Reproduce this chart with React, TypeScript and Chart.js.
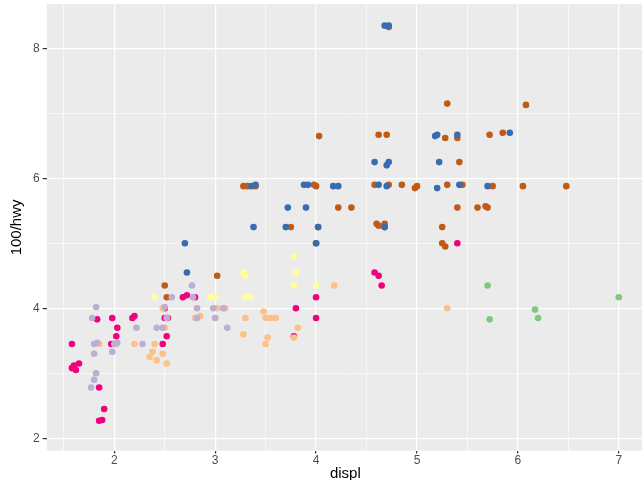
import Chart from "chart.js/auto";
import { useEffect, useRef } from "react";

const classes = ["2seater", "compact", "midsize", "minivan", "pickup", "subcompact", "suv"];
const colors = ["#7FC97F", "#BEAED4", "#FDC086", "#FFFF99", "#386CB0", "#F0027F", "#BF5B17"];

const twoseater = [[5.7, 4.35], [5.72, 3.83], [6.17, 3.98], [6.2, 3.85], [7.0, 4.17]];
const compact = [
  [1.8, 3.45], [1.83, 3.47], [1.78, 3.85], [1.82, 4.02], [1.8, 3.3], [1.8, 2.9], [1.77, 2.78], [1.82, 3.0],
  [2.0, 3.45], [2.03, 3.47], [1.98, 3.33], [2.22, 3.7], [2.42, 3.7], [2.52, 3.85], [2.48, 3.7], [2.5, 4.02],
  [2.78, 4.17], [2.77, 4.35], [2.82, 3.85], [3.0, 3.85], [2.98, 4.0], [3.12, 3.7], [3.08, 4.0], [2.57, 4.17],
  [2.82, 4.0], [2.28, 3.45],
];
const midsize = [
  [1.85, 3.45], [2.02, 3.45], [2.4, 3.45], [2.42, 3.2], [2.38, 3.33], [2.48, 3.3], [2.52, 3.15], [2.5, 3.7],
  [2.52, 3.85], [2.48, 4.0], [2.8, 3.85], [3.0, 3.85], [3.1, 4.0], [3.28, 3.6], [3.3, 3.85], [3.5, 3.85],
  [3.52, 3.55], [3.5, 3.45], [3.48, 3.95], [3.6, 3.85], [3.78, 3.55], [3.82, 3.7], [4.18, 4.35], [5.3, 4.0],
  [2.2, 3.45], [2.85, 3.88], [3.02, 4.0], [3.55, 3.85], [2.35, 3.25],
];
const minivan = [
  [2.4, 4.17], [3.0, 4.17], [3.28, 4.55], [3.3, 4.5], [3.78, 4.8], [3.8, 4.55], [3.78, 4.35], [4.0, 4.35],
  [3.3, 4.17], [3.35, 4.17], [2.95, 4.17],
];
const pickup = [
  [2.7, 5.0], [2.72, 4.55], [3.38, 5.25], [3.4, 5.9], [3.7, 5.25], [3.72, 5.55], [3.88, 5.9], [3.9, 5.55],
  [4.0, 5.0], [4.02, 5.25], [4.22, 5.88], [4.58, 6.25], [4.62, 5.9], [4.68, 8.35], [4.72, 8.35], [4.7, 5.88],
  [4.68, 5.25], [4.72, 6.25], [5.2, 6.67], [5.22, 6.25], [5.2, 5.85], [5.4, 6.67], [5.42, 5.9], [5.7, 5.88],
  [5.92, 6.7], [4.7, 6.2], [3.92, 5.9], [4.17, 5.88], [5.18, 6.65], [3.36, 5.88],
];
const subcompact = [
  [1.58, 3.45], [1.58, 3.08], [1.62, 3.05], [1.6, 3.12], [1.65, 3.15], [1.85, 2.27], [1.9, 2.45], [1.85, 2.78],
  [1.98, 3.85], [2.0, 3.45], [2.03, 3.7], [2.02, 3.57], [1.97, 3.45], [2.18, 3.85], [2.5, 3.85], [2.48, 3.45],
  [2.52, 3.57], [2.53, 3.85], [2.5, 4.0], [2.68, 4.17], [2.8, 4.17], [3.8, 4.0], [3.78, 3.57], [4.0, 4.17],
  [4.0, 3.85], [4.58, 4.55], [4.62, 4.5], [4.65, 4.35], [5.4, 5.0], [1.88, 2.28], [2.2, 3.88], [2.72, 4.2],
  [1.83, 3.83],
];
const suv = [
  [2.5, 4.35], [2.52, 4.17], [3.02, 4.5], [3.28, 5.88], [3.4, 5.88], [3.32, 5.88], [3.75, 5.25], [3.98, 5.9],
  [4.0, 5.0], [4.03, 6.65], [4.02, 5.25], [4.0, 5.88], [4.22, 5.55], [4.35, 5.55], [4.58, 5.9], [4.6, 5.3],
  [4.62, 6.67], [4.72, 8.33], [4.7, 6.67], [4.72, 5.9], [4.68, 5.25], [4.62, 5.27], [4.85, 5.9], [5.0, 5.88],
  [5.25, 5.0], [5.3, 7.15], [5.3, 5.9], [5.25, 5.25], [5.28, 4.95], [5.4, 5.55], [5.42, 6.25], [5.45, 5.9],
  [5.6, 5.55], [5.72, 6.67], [5.7, 5.55], [5.68, 5.57], [5.75, 5.88], [5.85, 6.7], [6.05, 5.88], [6.08, 7.13],
  [6.48, 5.88], [5.4, 6.62], [5.28, 6.62], [4.98, 5.85], [4.68, 5.3],
];
const series = [twoseater, compact, midsize, minivan, pickup, subcompact, suv];

const panelBg = {
  id: "panelBg",
  beforeDraw(chart: Chart) {
    const { ctx, chartArea } = chart;
    ctx.save();
    ctx.fillStyle = "#EBEBEB";
    ctx.fillRect(chartArea.left, chartArea.top, chartArea.right - chartArea.left, chartArea.bottom - chartArea.top);
    ctx.restore();
  },
};

export default function App() {
  const canvasRef = useRef<HTMLCanvasElement | null>(null);

  useEffect(() => {
    document.body.style.margin = "0";
    const canvas = canvasRef.current;
    if (!canvas) return;
    const tickFont = { family: "Liberation Sans", size: 12 };
    const titleFont = { family: "Liberation Sans", size: 15 };
    const chart = new Chart(canvas, {
      type: "scatter",
      data: {
        datasets: series.map((pts, i) => ({
          label: classes[i],
          data: pts.map(([x, y]) => ({ x, y })),
          backgroundColor: colors[i],
          borderWidth: 0,
          pointRadius: 3.3,
        })),
      },
      options: {
        animation: false,
        responsive: false,
        layout: { padding: { top: 0, right: 0, left: 4, bottom: 7 } },
        plugins: { legend: { display: false }, tooltip: { enabled: false } },
        scales: {
          x: {
            min: 1.33,
            max: 7.25,
            afterBuildTicks: (axis) => {
              axis.ticks = [1.5, 2, 2.5, 3, 3.5, 4, 4.5, 5, 5.5, 6, 6.5, 7].map((value) => ({ value }));
            },
            border: { display: false },
            grid: {
              color: "#FFFFFF",
              lineWidth: (c) => (Number.isInteger(c.tick?.value) ? 1.2 : 0.6),
              tickColor: (c) => (Number.isInteger(c.tick?.value) ? "#333333" : "rgba(0,0,0,0)"),
              tickLength: 3,
            },
            ticks: {
              font: tickFont,
              color: "#4D4D4D",
              padding: 0,
              maxRotation: 0,
              autoSkip: false,
              callback: (v) => (Number.isInteger(Number(v)) ? String(v) : ""),
            },
            title: { display: true, text: "displ", font: titleFont, color: "#000", padding: { top: -3, bottom: 0 } },
          },
          y: {
            min: 1.81,
            max: 8.68,
            afterBuildTicks: (axis) => {
              axis.ticks = [2, 3, 4, 5, 6, 7, 8].map((value) => ({ value }));
            },
            border: { display: false },
            grid: {
              color: "#FFFFFF",
              lineWidth: (c) => (c.tick && c.tick.value % 2 === 0 ? 1.2 : 0.6),
              tickColor: (c) => (c.tick && c.tick.value % 2 === 0 ? "#333333" : "rgba(0,0,0,0)"),
              tickLength: 4,
            },
            ticks: {
              font: tickFont,
              color: "#4D4D4D",
              padding: 3,
              autoSkip: false,
              callback: (v) => (Number(v) % 2 === 0 ? String(v) : ""),
            },
            title: { display: true, text: "100/hwy", font: titleFont, color: "#000", padding: { bottom: 4 } },
          },
        },
      },
      plugins: [panelBg],
    });
    return () => chart.destroy();
  }, []);

  return (
    <div style={{ width: 642, height: 480, overflow: "hidden", position: "relative" }}>
      <canvas
        ref={canvasRef}
        width={648}
        height={496}
        style={{ display: "block", position: "absolute", top: -6, left: 0 }}
      />
    </div>
  );
}
